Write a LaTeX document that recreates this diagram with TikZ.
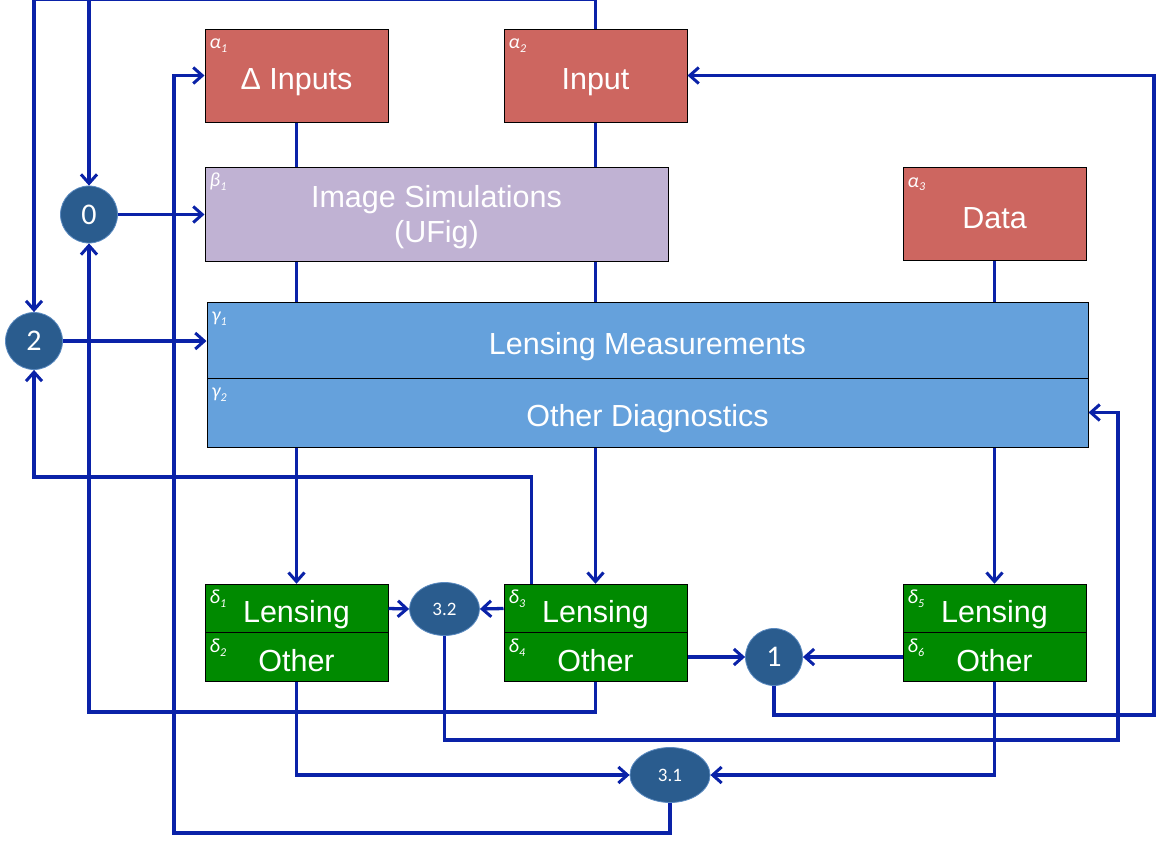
\documentclass[tikz,border=0pt]{standalone}
\usepackage{fontspec}
\setmainfont{Liberation Sans}
\newfontfamily\carl{Carlito}
\usetikzlibrary{arrows.meta,shapes.geometric}
\definecolor{cred}{HTML}{CD6660}
\definecolor{cpur}{HTML}{C0B2D3}
\definecolor{cblu}{HTML}{65A1DC}
\definecolor{cgrn}{HTML}{008A00}
\definecolor{ccir}{HTML}{2A5C8E}
\definecolor{ccre}{HTML}{5A8AC0}
\definecolor{cline}{HTML}{0A22A8}
\newcommand\glab[3]{\node[glabel] at ([xshift=5pt,yshift=-20pt]#1.north west) {#2\raisebox{-0.4ex}{\fontsize{12}{12}\selectfont #3}};}
\begin{document}
\begin{tikzpicture}[x=1pt,y=-1pt,
  box/.style={draw=black,line width=1pt,text=white,inner sep=0pt,
    font=\fontsize{30.5}{35}\selectfont,align=center},
  one/.style={text height=28pt,text depth=0pt},
  redbox/.style={box,one,fill=cred,minimum width=183pt,minimum height=93pt},
  grnbox/.style={box,one,fill=cgrn,minimum width=183pt,minimum height=48.5pt},
  circ/.style={circle,fill=ccir,draw=ccre,line width=0.8pt,text=white,
    minimum size=57pt,inner sep=0pt,font=\carl\fontsize{30}{30}\selectfont},
  ell/.style={ellipse,fill=ccir,draw=ccre,line width=0.8pt,text=white,
    inner sep=0pt,font=\carl\fontsize{19}{19}\selectfont},
  glabel/.style={anchor=base west,text=white,inner sep=0pt,
    font=\carl\itshape\fontsize{20}{20}\selectfont},
  conn/.style={draw=cline,line width=3.3pt},
  arr/.style={conn,-{Straight Barb[length=9pt,width=16pt,line width=3pt]}}
  ]
\useasboundingbox[fill=white] (0,0) rectangle (1157,841);

% boxes
\node[redbox] (a1) at (296.5,75.5) {Δ Inputs};
\node[redbox] (a2) at (595.5,75.5) {Input};
\node[box,fill=cpur,minimum width=463pt,minimum height=94pt] (b1) at (436.5,214) {\rule{0pt}{28pt}Image Simulations\\(UFig)};
\node[redbox] (a3) at (994.5,214) {Data};
\node[box,one,fill=cblu,minimum width=881pt,minimum height=76pt] (g1) at (647.5,340) {Lensing Measurements};
\node[box,one,fill=cblu,minimum width=881pt,minimum height=69pt] (g2) at (647.5,412.5) {Other Diagnostics};
\node[grnbox] (d1) at (296.5,608.5) {Lensing};
\node[grnbox] (d2) at (296.5,657) {Other};
\node[grnbox] (d3) at (595.5,608.5) {Lensing};
\node[grnbox] (d4) at (595.5,657) {Other};
\node[grnbox] (d5) at (994.5,608.5) {Lensing};
\node[grnbox] (d6) at (994.5,657) {Other};

\glab{a1}{α}{1}
\glab{a2}{α}{2}
\glab{a3}{α}{3}
\glab{b1}{β}{1}
\glab{g1}{γ}{1}
\glab{g2}{γ}{2}
\glab{d1}{δ}{1}
\glab{d2}{δ}{2}
\glab{d3}{δ}{3}
\glab{d4}{δ}{4}
\glab{d5}{δ}{5}
\glab{d6}{δ}{6}

% circles
\node[circ] (n0) at (89,214.5) {0};
\node[circ] (n2) at (34,341) {2};
\node[circ] (n1) at (774,657) {1};
\node[ell,minimum width=70pt,minimum height=53pt] (n32) at (444.5,609) {3.2};
\node[ell,minimum width=80pt,minimum height=55pt] (n31) at (670,775) {3.1};

% route coordinates
\coordinate (top) at (0,-0.7);
\coordinate (L477) at (0,477);
\coordinate (L712) at (0,712);
\coordinate (c1) at (1154,715);
\coordinate (c2) at (1118,740);
\coordinate (c3) at (174,833);

% plain links
\draw[conn] (a1.south) -- (a1.south |- b1.north);
\draw[conn] (a2.south) -- (a2.south |- b1.north);
\draw[conn] (a1.south |- b1.south) -- (a1.south |- g1.north);
\draw[conn] (a2.south |- b1.south) -- (a2.south |- g1.north);
\draw[conn] (a3.south) -- (a3.south |- g1.north);

% top loop
\draw[arr] (a2.north) -- (a2.north |- top) -| (n2.north);
\draw[arr] (n0.north |- top) -- (n0.north);

% inputs to stages
\draw[arr] (n0.east) -- (n0.east -| b1.west);
\draw[arr] (n2.east) -- (n2.east -| g1.west);

% gamma to delta
\draw[arr] (d1.north |- g2.south) -- (d1.north);
\draw[arr] (d3.north |- g2.south) -- (d3.north);
\draw[arr] (d5.north |- g2.south) -- (d5.north);

% delta to circles
\draw[arr] (d1.east) -- (n32.west);
\draw[arr] (d3.west) -- (n32.east);
\draw[arr] (d4.east) -- (n1.west);
\draw[arr] (d6.west) -- (n1.east);
\draw[arr] (d2.south) |- (n31.west);
\draw[arr] (d6.south) |- (n31.east);

% feedback loops
\draw[arr] ([xshift=28pt]d3.north west) -- ([xshift=28pt]d3.north west |- L477) -| (n2.south);
\draw[arr] (d4.south) -- (d4.south |- L712) -| (n0.south);
\draw[arr] (n1.south) |- (c1) |- (a2.east);
\draw[arr] (n32.south) |- (c2) |- (g2.east);
\draw[arr] (n31.south) |- (c3) |- (a1.west);
\end{tikzpicture}
\end{document}
